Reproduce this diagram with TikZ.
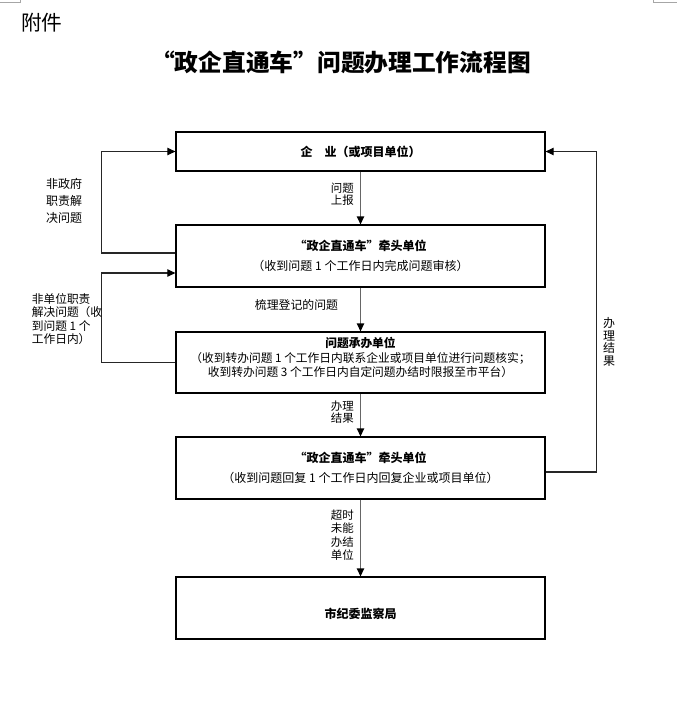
\documentclass[tikz,border=0pt]{standalone}
\usepackage{fontspec}
\setmainfont{Noto Sans CJK SC}
\usetikzlibrary{arrows.meta,positioning}

\begin{document}
\begin{tikzpicture}[
  x=0.75pt,y=-0.75pt,
  box/.style={
    draw,line width=0.9pt,align=center,
    minimum width=276.75pt,inner sep=0pt,
    font=\fontsize{9}{15}\selectfont
  },
  arr/.style={-{Triangle[length=6pt,width=5.5pt,color=black]},line width=1.1pt,draw=black!60},
  loopline/.style={-{Triangle[length=6pt,width=5.5pt,color=black]},line width=0.8pt,draw=black!85},
  lbl/.style={align=left,inner sep=0pt,font=\fontsize{8.6}{8.8}\selectfont},
  cornermark/.style={draw=black!35,line width=0.75pt}
]
  \useasboundingbox (0,0) rectangle (692,710);
  \draw[cornermark] (0,2.5) -- (20,2.5) -- (20,0);
  \draw[cornermark] (653,0) -- (653,2.5) -- (677,2.5);

  % heading
  \node[inner sep=0pt,font=\fontsize{15.5}{16}\selectfont] (annex) at (42,23) {附件};
  \node[inner sep=0pt,font=\fontsize{17.8}{20}\selectfont\bfseries] (title) at (341,62.5)
    {“政企直通车”问题办理工作流程图};

  % boxes
  \node[box,minimum height=29.25pt] (ent) at (360.5,151.5)
    {\textbf{企　业（或项目单位）}};
  \node[box,minimum height=46.5pt] (lead1) at (360.5,256)
    {\textbf{“政企直通车”牵头单位}\\（收到问题 1 个工作日内完成问题审核）};
  \node[box,minimum height=45.75pt,font=\fontsize{8.8}{8.6}\selectfont] (undert) at (360.5,362.5)
    {\textbf{问题承办单位}\\[3pt]（收到转办问题 1 个工作日内联系企业或项目单位进行问题核实；\\
     收到转办问题 3 个工作日内自定问题办结时限报至市平台）\\ \mbox{}};
  \node[box,minimum height=46.5pt] (lead2) at (360.5,468)
    {\textbf{“政企直通车”牵头单位}\\（收到问题回复 1 个工作日内回复企业或项目单位）};
  \node[box,minimum height=46.5pt,text height=15pt,text depth=0pt] (cdi) at (360.5,608)
    {\textbf{市纪委监察局}};

  % main flow
  \draw[arr] (ent) -- (lead1);
  \draw[arr] (lead1) -- (undert);
  \draw[arr] (undert) -- (lead2);
  \draw[arr] (lead2) -- (cdi);

  % side loops
  \draw[loopline] ([yshift=2.25pt]lead1.west) -- ++(-74,0) |- (ent.west);
  \draw[loopline] (undert.west) -- ++(-74,0) |- ([yshift=-12.75pt]lead1.west);
  \draw[loopline] ([yshift=-3pt]lead2.east) -- ++(51,0) |- (ent.east);

  % labels
  \node[lbl,anchor=east] (report) at (354,194) {问题\\上报};
  \node[lbl,font=\fontsize{8.9}{9}\selectfont] (sort) at (296.5,305) {梳理登记的问题};
  \node[lbl,anchor=east] (res1) at (354,412) {办理\\结果};
  \node[lbl,anchor=east,font=\fontsize{8.6}{10}\selectfont] (late) at (354,535)
    {超时\\未能\\办结\\单位};
  \node[lbl,align=center,font=\fontsize{9}{9.4}\selectfont] (res2) at (609,342)
    {办\\理\\结\\果};
  \node[lbl,font=\fontsize{9}{12.5}\selectfont] (nogov) at (64,201)
    {非政府\\职责解\\决问题};
  \node[lbl,font=\fontsize{8.8}{10}\selectfont] (nounit) at (67,319)
    {非单位职责\\解决问题（收\\到问题 1 个\\工作日内）};
\end{tikzpicture}
\end{document}
